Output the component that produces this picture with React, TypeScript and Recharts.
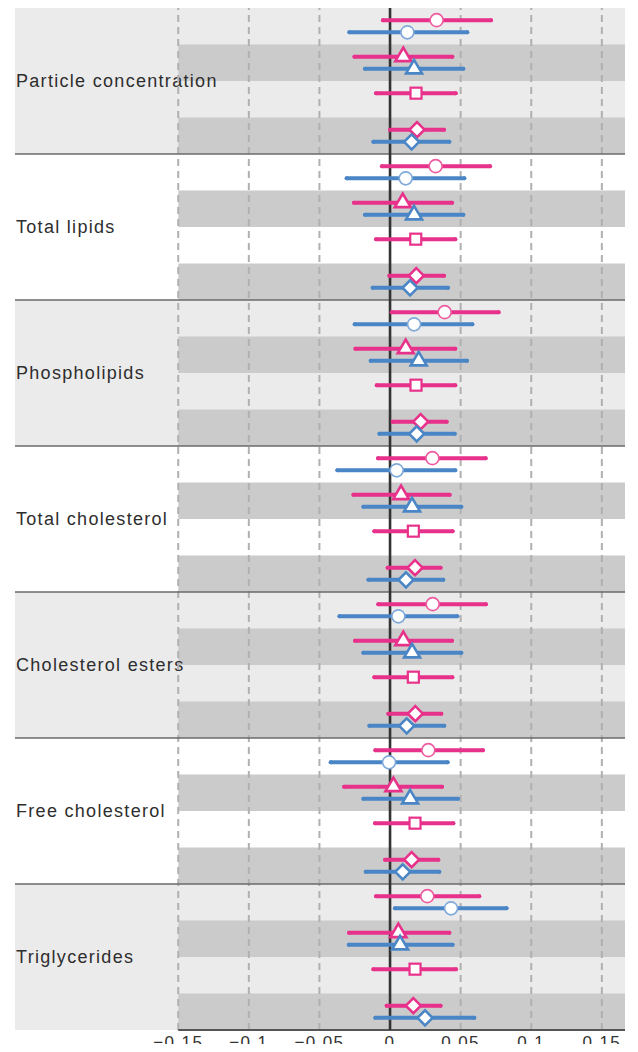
import {
  ScatterChart,
  Scatter,
  XAxis,
  YAxis,
  ErrorBar,
  ReferenceArea,
  ReferenceLine,
} from 'recharts';

// lipid measures, top to bottom
const groups = [
  'Particle concentration',
  'Total lipids',
  'Phospholipids',
  'Total cholesterol',
  'Cholesterol esters',
  'Free cholesterol',
  'Triglycerides',
];

// [estimate, lower, upper] per group
const circlePink = [
  [0.033, -0.005, 0.0715],
  [0.0323, -0.0057, 0.0708],
  [0.0387, 0.0012, 0.0769],
  [0.03, -0.0085, 0.0677],
  [0.0302, -0.0083, 0.0679],
  [0.0271, -0.0104, 0.0658],
  [0.0264, -0.0099, 0.0632],
];
const circleBlue = [
  [0.0123, -0.0288, 0.0547],
  [0.0111, -0.0307, 0.0526],
  [0.017, -0.025, 0.0583],
  [0.0047, -0.0373, 0.0462],
  [0.0059, -0.0358, 0.0476],
  [-0.0007, -0.042, 0.0408],
  [0.0432, 0.0035, 0.0825],
];
const trianglePink = [
  [0.0094, -0.0252, 0.0441],
  [0.009, -0.0255, 0.0439],
  [0.0111, -0.0245, 0.0462],
  [0.0078, -0.0259, 0.0422],
  [0.0094, -0.0248, 0.0439],
  [0.0024, -0.0325, 0.0368],
  [0.0059, -0.029, 0.042],
];
const triangleBlue = [
  [0.017, -0.0177, 0.0519],
  [0.017, -0.0177, 0.0519],
  [0.0203, -0.0137, 0.0545],
  [0.0156, -0.0189, 0.0505],
  [0.0156, -0.0189, 0.0505],
  [0.0142, -0.0189, 0.0481],
  [0.0071, -0.0292, 0.0443],
];
const squarePink = [
  [0.0184, -0.0099, 0.0465],
  [0.0182, -0.0099, 0.0462],
  [0.0184, -0.0094, 0.0462],
  [0.0165, -0.0111, 0.0443],
  [0.0165, -0.0111, 0.0441],
  [0.0177, -0.0106, 0.0448],
  [0.0177, -0.0118, 0.0467],
];
const diamondPink = [
  [0.0191, 0.0, 0.0382],
  [0.0186, -0.0005, 0.0382],
  [0.0217, 0.0019, 0.0401],
  [0.0177, -0.0017, 0.0358],
  [0.0179, -0.0012, 0.0363],
  [0.0153, -0.0035, 0.0342],
  [0.0165, -0.0024, 0.0358],
];
const diamondBlue = [
  [0.0153, -0.0118, 0.042],
  [0.0142, -0.0123, 0.041],
  [0.0189, -0.0075, 0.0458],
  [0.0113, -0.0153, 0.0377],
  [0.0118, -0.0146, 0.0384],
  [0.009, -0.0172, 0.0349],
  [0.0248, -0.0104, 0.0597],
];

const xTicks = [-0.15, -0.1, -0.05, 0, 0.05, 0.1, 0.15];

const X_MIN = -0.2656;
const X_MAX = 0.1664;
const PINK = '#e8318a';
const BLUE = '#4a86c6';
const LIGHT = '#ebebeb';
const DARK = '#cbcbcb';
const FONT = '"Liberation Sans", Arial, sans-serif';

// band 0..3 inside a group, row 0 = upper (pink), 1 = lower (blue)
const toPoints = (rows: number[][], band: number, row: number) =>
  rows.map(([est, lo, hi], g) => ({
    x: est,
    y: g * 4 + band + (row === 0 ? 1 / 3 : 2 / 3),
    err: [est - lo, hi - est],
  }));

const shape = (kind: string, color: string, outline = color) => (p: any) => {
  const { cx, cy } = p;
  if (kind === 'circle')
    return <circle cx={cx} cy={cy} r={6.5} fill="#fff" stroke={outline} strokeWidth={1.6} />;
  if (kind === 'triangle')
    return (
      <polygon
        points={`${cx},${cy - 9} ${cx + 8},${cy + 4.5} ${cx - 8},${cy + 4.5}`}
        fill="#fff"
        stroke={color}
        strokeWidth={2.6}
      />
    );
  if (kind === 'square')
    return <rect x={cx - 5.5} y={cy - 5.5} width={11} height={11} fill="#fff" stroke={color} strokeWidth={2.2} />;
  return (
    <polygon
      points={`${cx},${cy - 7.5} ${cx + 7.5},${cy} ${cx},${cy + 7.5} ${cx - 7.5},${cy}`}
      fill="#fff"
      stroke={color}
      strokeWidth={2.6}
    />
  );
};

const series = [
  { rows: circlePink, band: 0, row: 0, kind: 'circle', color: PINK, outline: '#ee5aa0' },
  { rows: circleBlue, band: 0, row: 1, kind: 'circle', color: BLUE, outline: '#7fa9da' },
  { rows: trianglePink, band: 1, row: 0, kind: 'triangle', color: PINK },
  { rows: triangleBlue, band: 1, row: 1, kind: 'triangle', color: BLUE },
  { rows: squarePink, band: 2, row: 0, kind: 'square', color: PINK },
  { rows: diamondPink, band: 3, row: 0, kind: 'diamond', color: PINK },
  { rows: diamondBlue, band: 3, row: 1, kind: 'diamond', color: BLUE },
];

const fmt = (v: number) => (v === 0 ? '0' : v < 0 ? `\u2212${-v}` : `${v}`);

export default function App() {
  return (
    <div style={{ width: 622, marginBottom: -8 }}>
      <ScatterChart width={622} height={1044} margin={{ top: 0, right: 5, bottom: 0, left: 7 }}>
        <XAxis
          type="number"
          dataKey="x"
          domain={[X_MIN, X_MAX]}
          allowDataOverflow
          ticks={xTicks}
          interval={0}
          tickFormatter={fmt}
          axisLine={false}
          tickLine={false}
          tickSize={0}
          tickMargin={6}
          height={22}
          tick={{ fontSize: 17, fill: '#333', fontFamily: FONT, letterSpacing: 1.4 }}
        />
        <YAxis type="number" dataKey="y" domain={[0, 28]} reversed hide allowDataOverflow />

        {groups.map((_, g) => (
          <ReferenceArea
            key={`bg-${g}`}
            x1={X_MIN}
            x2={X_MAX}
            y1={g * 4}
            y2={g * 4 + 4}
            fill={g % 2 === 0 ? LIGHT : '#fff'}
            fillOpacity={1}
            stroke="none"
          />
        ))}
        {groups.map((_, g) =>
          [1, 3].map((b) => (
            <ReferenceArea
              key={`band-${g}-${b}`}
              x1={-0.15}
              x2={X_MAX}
              y1={g * 4 + b}
              y2={g * 4 + b + 1}
              fill={DARK}
              fillOpacity={1}
              stroke="none"
            />
          ))
        )}
        {xTicks
          .filter((t) => t !== 0)
          .map((t) => (
            <ReferenceLine key={`grid-${t}`} x={t} stroke="#b0b0b0" strokeWidth={2} strokeDasharray="7 5" />
          ))}
        {groups.map((name, g) => (
          <ReferenceArea
            key={`label-${g}`}
            x1={X_MIN}
            x2={-0.15}
            y1={g * 4}
            y2={g * 4 + 4}
            fill="none"
            stroke="none"
            label={{
              content: (lp: any) => {
                const vb = lp.viewBox;
                return (
                  <text
                    x={vb.x + 1}
                    y={vb.y + vb.height / 2}
                    dy="0.36em"
                    fill="#2e2e2e"
                    fontSize={18}
                    fontFamily={FONT}
                    letterSpacing={1.3}
                  >
                    {name}
                  </text>
                );
              },
            }}
          />
        ))}
        {groups.slice(1).map((_, i) => (
          <ReferenceLine key={`sep-${i}`} y={(i + 1) * 4} stroke="#6a6a6a" strokeWidth={1.5} />
        ))}
        <ReferenceLine
          segment={[
            { x: -0.15, y: 28 },
            { x: X_MAX, y: 28 },
          ]}
          stroke="#555"
          strokeWidth={2}
        />
        <ReferenceLine x={0} stroke="#333" strokeWidth={2.6} />

        {series.map((s, i) => (
          <Scatter
            key={i}
            data={toPoints(s.rows, s.band, s.row)}
            shape={shape(s.kind, s.color, s.outline)}
            isAnimationActive={false}
          >
            <ErrorBar
              dataKey="err"
              direction="x"
              width={0}
              stroke={s.color}
              strokeWidth={4}
              strokeLinecap="round"
              isAnimationActive={false}
            />
          </Scatter>
        ))}
      </ScatterChart>
    </div>
  );
}
